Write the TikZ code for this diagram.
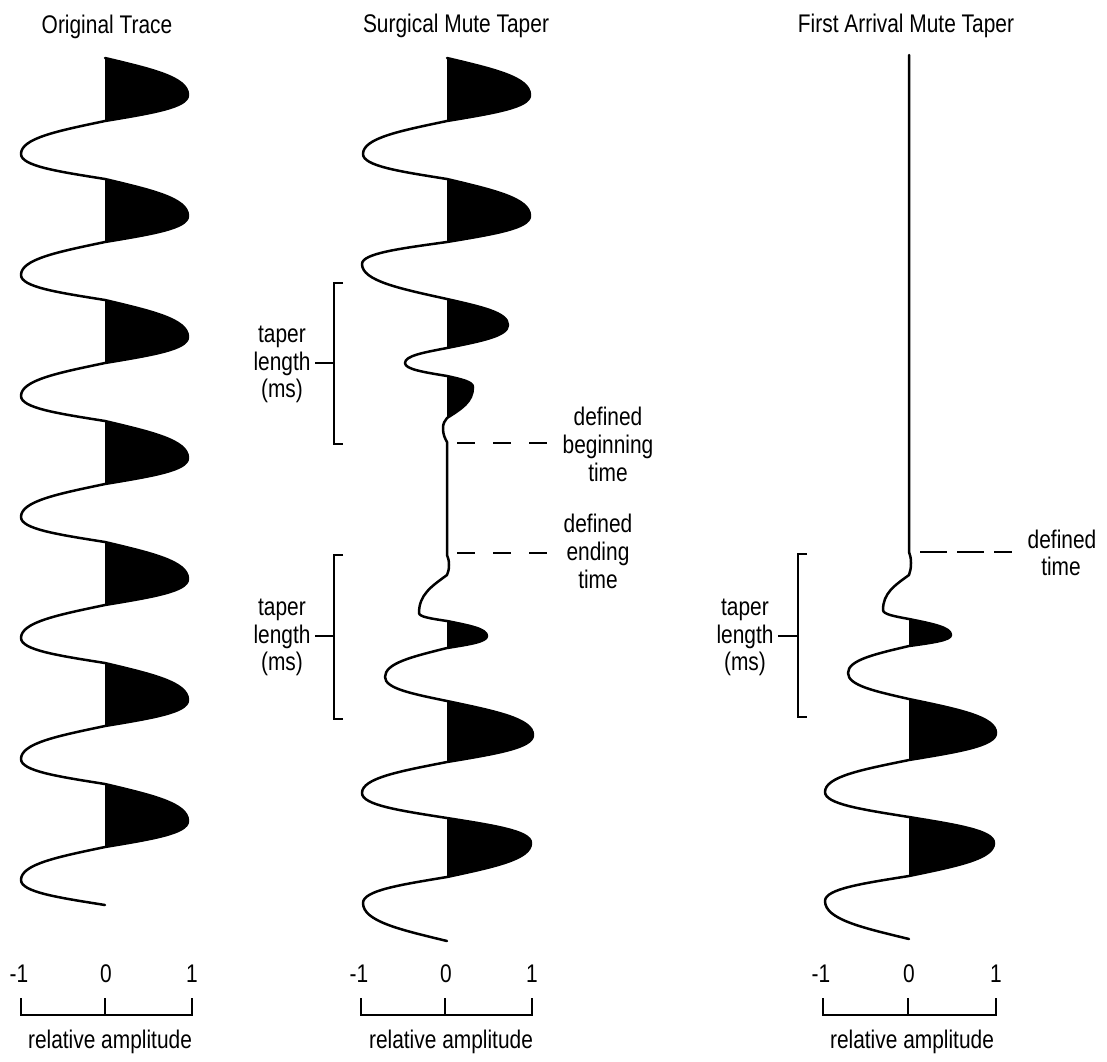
\documentclass[tikz,border=0pt]{standalone}
\usepackage{fontspec}
\setmainfont{Liberation Sans}[FakeStretch=0.82]
\begin{document}
\begin{tikzpicture}[x=1pt,y=-1pt,
  trace/.style={line width=2.5pt, line join=round, line cap=round},
  lobefill/.style={fill=black},
  brk/.style={line width=1.2pt},
  dsh/.style={line width=1.2pt, dash pattern=on 18pt off 18pt},
  dsh3/.style={line width=1.2pt, dash pattern=on 27pt off 10pt},
  lbl/.style={font=\fontsize{25.5}{28.5}\selectfont, inner sep=0pt, anchor=base},
  hl/.style n args={4}{insert path={
    .. controls ({\X+0.56*(#4)},{(#1)+0.3*((#2)-(#1))}) and ({\X+(#4)},{(#1)+0.52*((#2)-(#1))}) .. ({\X+(#4)},{#2})
    .. controls ({\X+(#4)},{(#2)+0.48*((#3)-(#2))}) and ({\X+0.56*(#4)},{(#2)+0.7*((#3)-(#2))}) .. ({\X},{#3})}},
]
\useasboundingbox (0,0) rectangle (1107,1061);

% ---------------- titles ----------------
\node[lbl] (t1) at (107,33) {Original Trace};
\node[lbl] (t2) at (456,32) {Surgical Mute Taper};
\node[lbl] (t3) at (906,32) {First Arrival Mute Taper};

% ---------------- trace 1 ----------------
\def\X{105}
\foreach \s in {58,179,300,421,542,663,784}{
  \fill[lobefill] (\X,\s) [hl={\s}{\s+37}{\s+63}{83}] -- cycle;
}
\draw[trace] (\X,58)
  [hl={58}{95}{121}{83}]   [hl={121}{154}{179}{-84}]
  [hl={179}{216}{242}{83}] [hl={242}{275}{300}{-84}]
  [hl={300}{337}{363}{83}] [hl={363}{396}{421}{-84}]
  [hl={421}{458}{484}{83}] [hl={484}{517}{542}{-84}]
  [hl={542}{579}{605}{83}] [hl={605}{638}{663}{-84}]
  [hl={663}{700}{726}{83}] [hl={726}{759}{784}{-84}]
  [hl={784}{821}{847}{83}] [hl={847}{880}{905}{-84}];

% ---------------- trace 2 ----------------
\def\X{447}
\fill[lobefill] (\X,58)  [hl={58}{95}{121}{83}] -- cycle;
\fill[lobefill] (\X,179) [hl={179}{216}{242}{83}] -- cycle;
\fill[lobefill] (\X,299) [hl={299}{325}{348}{61}] -- cycle;
\fill[lobefill] (\X,376) [hl={376}{387}{418}{26}] -- cycle;
\fill[lobefill] (\X,621) [hl={621}{636}{648}{40}] -- cycle;
\fill[lobefill] (\X,701) [hl={701}{735}{762}{86}] -- cycle;
\fill[lobefill] (\X,818) [hl={818}{843}{877}{84}] -- cycle;
\draw[trace] (\X,58)
  [hl={58}{95}{121}{83}]   [hl={121}{154}{179}{-84}]
  [hl={179}{216}{242}{83}] [hl={242}{264}{299}{-85}]
  [hl={299}{325}{348}{61}] [hl={348}{363}{376}{-42}]
  [hl={376}{387}{418}{26}] [hl={418}{428}{442}{-4}]
  -- (\X,555)
  [hl={555}{565}{575}{2}]  [hl={575}{613}{621}{-28}]
  [hl={621}{636}{648}{40}] [hl={648}{677}{701}{-62}]
  [hl={701}{735}{762}{86}] [hl={762}{793}{818}{-85}]
  [hl={818}{843}{877}{84}] [hl={877}{903}{941}{-84}];

% ---------------- trace 3 ----------------
\def\X{909}
\fill[lobefill] (\X,619) [hl={619}{635}{646}{42}] -- cycle;
\fill[lobefill] (\X,699) [hl={699}{733}{760}{87}] -- cycle;
\fill[lobefill] (\X,817) [hl={817}{843}{876}{85}] -- cycle;
\draw[trace] (\X,55) -- (\X,552)
  [hl={552}{563}{575}{2}]  [hl={575}{610}{619}{-26}]
  [hl={619}{635}{646}{42}] [hl={646}{673}{699}{-61}]
  [hl={699}{733}{760}{87}] [hl={760}{792}{817}{-84}]
  [hl={817}{843}{876}{85}] [hl={876}{901}{939}{-84}];

% ---------------- taper brackets ----------------
\draw[brk] (343,283) -- (334,283) -- (334,444) -- (343,444);
\draw[brk] (315,363) -- (334,363);
\node[lbl] (ta1) at (282,342) {taper};
\node[lbl] (tb1) at (282,370) {length};
\node[lbl] (tc1) at (282,397) {(ms)};

\draw[brk] (343,555) -- (334,555) -- (334,719) -- (343,719);
\draw[brk] (315,636) -- (334,636);
\node[lbl] (ta2) at (282,615) {taper};
\node[lbl] (tb2) at (282,643) {length};
\node[lbl] (tc2) at (282,670) {(ms)};

\draw[brk] (807,554) -- (798,554) -- (798,717) -- (807,717);
\draw[brk] (778,636) -- (798,636);
\node[lbl] (ta3) at (745,615) {taper};
\node[lbl] (tb3) at (745,643) {length};
\node[lbl] (tc3) at (745,670) {(ms)};

% ---------------- defined times ----------------
\coordinate (b0) at (457,443); \coordinate (b1) at (547,443);
\draw[dsh] (b0) -- (b1);
\node[lbl] (da) at (608,425) {defined};
\node[lbl] (db) at (608,453) {beginning};
\node[lbl] (dc) at (608,481) {time};

\coordinate (e0) at (457,553); \coordinate (e1) at (547,553);
\draw[dsh] (e0) -- (e1);
\node[lbl] (ea) at (598,532) {defined};
\node[lbl] (eb) at (598,560) {ending};
\node[lbl] (ec) at (598,588) {time};

\coordinate (f0) at (920,552); \coordinate (f1) at (1012,552);
\draw[dsh3] (f0) -- (f1);
\node[lbl] (fa) at (1062,548) {defined};
\node[lbl] (fb) at (1061,575) {time};

% ---------------- amplitude scales ----------------
\foreach \a/\b/\c/\t/\n in {21/105/192/110/1, 361/445/532/451/2, 823/908/996/912/3}{
  \draw[brk] (\a,998) -- (\a,1015) -- (\c,1015) -- (\c,998);
  \draw[brk] (\b,998) -- (\b,1015);
  \node[lbl] (m\n) at (\a-2,982) {-1};
  \node[lbl] (z\n) at (\b+1,982) {0};
  \node[lbl] (p\n) at (\c,982) {1};
  \node[lbl] (r\n) at (\t,1048) {relative amplitude};
}
\end{tikzpicture}
\end{document}
